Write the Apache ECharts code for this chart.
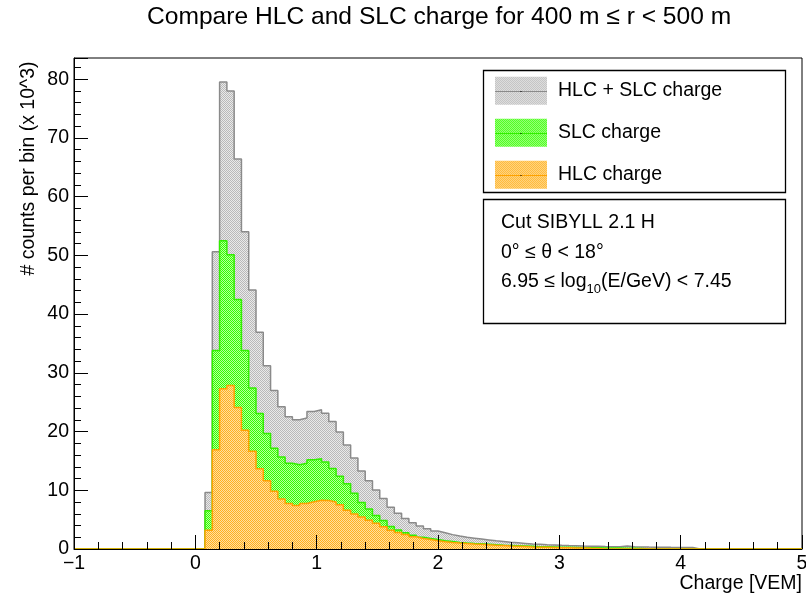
<!DOCTYPE html>
<html><head><meta charset="utf-8">
<script src="https://cdn.jsdelivr.net/npm/echarts@6/dist/echarts.min.js"></script>
<style>html,body{margin:0;padding:0;background:#fff}#c{width:806px;height:599px}</style>
</head><body><div id="c"></div>
<script>
// ---- data (histogram: 100 bins of width 0.06 from -1 to 5; values in units of 10^3 counts) ----
const xMin = -1, xMax = 5, binWidth = 0.06, nBins = 100;
const firstFilledEdge = 0.08; // low edge of first non-empty bin
const hlcSlcCharge = [
  9.6, 50.6, 79.5, 78.0, 66.4, 54.0, 44.1, 36.9, 31.2, 27.0,
  24.2, 22.5, 22.0, 22.3, 23.4, 23.7, 23.1, 21.7, 19.9, 17.7,
  15.5, 13.3, 11.6, 10.05, 8.6, 7.1, 6.1, 5.2, 4.45, 3.9,
  3.45, 3.05, 2.75, 2.45, 2.2, 2.0, 1.85, 1.7, 1.55, 1.4,
  1.28, 1.15, 1.05, 0.95, 0.85, 0.8, 0.72, 0.68, 0.62, 0.58,
  0.55, 0.5, 0.48, 0.45, 0.42, 0.4, 0.38, 0.5, 0.4, 0.35,
  0.32, 0.3, 0.3, 0.28, 0.27, 0.25, 0.25
];
const slcCharge = [
  6.5, 33.8, 52.5, 50.1, 42.5, 33.8, 27.4, 23.05, 19.65, 17.15,
  15.65, 14.6, 14.35, 14.6, 15.2, 15.35, 14.8, 13.7, 12.4, 11.1,
  9.5, 7.9, 6.8, 5.7, 4.85, 3.85, 3.25, 2.75, 2.35, 2.0,
  1.8, 1.6, 1.42, 1.27, 1.12, 1.03, 0.95, 0.88, 0.8, 0.72,
  0.65, 0.6, 0.55, 0.5, 0.45, 0.4, 0.38, 0.35, 0.3, 0.28,
  0.25, 0.22, 0.2, 0.2, 0.18, 0.15, 0.15, 0.12, 0.12, 0.1
];
const hlcCharge = [
  3.2, 16.9, 27.3, 27.85, 24.1, 20.2, 16.65, 13.65, 11.6, 9.85,
  8.5, 7.75, 7.4, 7.75, 8.06, 8.3, 8.25, 8.0, 7.55, 6.6,
  5.95, 5.45, 4.9, 4.4, 3.8, 3.2, 2.8, 2.45, 2.1, 1.8,
  1.6, 1.4, 1.25, 1.12, 1.02, 0.93, 0.86, 0.8, 0.72, 0.65,
  0.6, 0.52, 0.47, 0.42, 0.36, 0.31, 0.28, 0.25, 0.22, 0.2,
  0.18, 0.15, 0.12, 0.1
];
const seriesNames = ['HLC + SLC charge', 'SLC charge', 'HLC charge'];
const xTickLabels = ['\u22121', '0', '1', '2', '3', '4', '5'];
const titleText = 'Compare HLC and SLC charge for 400 m \u2264 r < 500 m';
const infoLines = ['Cut SIBYLL 2.1 H', '0\u00b0 \u2264 \u03b8 < 18\u00b0'];

// ---- build step points (low edge of each bin) ----
function toPoints(arr) {
  const pts = [];
  const offset = Math.round((firstFilledEdge - xMin) / binWidth);
  for (let i = 0; i < nBins; i++) {
    const x = +(xMin + i * binWidth).toFixed(4);
    const k = i - offset;
    pts.push([x, (k >= 0 && k < arr.length) ? arr[k] : 0]);
  }
  pts.push([xMax, 0]);
  return pts;
}
function pattern(c1, c2) {
  const cv = document.createElement('canvas');
  cv.width = 2; cv.height = 2;
  const g = cv.getContext('2d');
  g.fillStyle = c2; g.fillRect(0, 0, 2, 2);
  g.fillStyle = c1; g.fillRect(0, 0, 1, 1); g.fillRect(1, 1, 1, 1);
  return { image: cv, repeat: 'repeat' };
}
const FONT = 'Liberation Sans, Arial, Helvetica, sans-serif';
const fills = [pattern('#b9b9b9', '#e9e9e9'), pattern('#33ff00', '#b6ff9c'), pattern('#ffb01f', '#ffdf9e')];
const lines = ['#8a8a8a', '#33ee00', '#ffa200'];
const datasets = [hlcSlcCharge, slcCharge, hlcCharge];

const chart = echarts.init(document.getElementById('c'), null, { renderer: 'canvas' });
const legendTop = 71, legendLeft = 483, legendItemH = 28, legendGap = 14, swatchX = 495, swatchW = 52;
const graphic = [
  { type: 'rect', shape: { x: 483.5, y: 70.5, width: 302, height: 122 }, style: { fill: 'none', stroke: '#000', lineWidth: 1.3 }, z: 10 },
  { type: 'rect', shape: { x: 483.5, y: 199.5, width: 302, height: 124 }, style: { fill: 'none', stroke: '#000', lineWidth: 1.3 }, z: 10 },
  { type: 'text', left: 501, top: 213, style: { text: infoLines[0], font: '19.5px ' + FONT, fill: '#000' }, z: 10 },
  { type: 'text', left: 501, top: 243, style: { text: infoLines[1], font: '19.5px ' + FONT, fill: '#000' }, z: 10 },
  { type: 'text', left: 501, top: 272, style: {
      text: '6.95 \u2264 log{sub|10}(E/GeV) < 7.45', font: '19.5px ' + FONT, fill: '#000',
      rich: { sub: { fontSize: 13, fontFamily: FONT, padding: [14, 0, 0, 0] } } }, z: 10 }
];
for (let i = 0; i < 3; i++) {
  const cy = legendTop + 5.7 + i * (legendItemH + legendGap) + legendItemH / 2;
  graphic.push({ type: 'line', shape: { x1: swatchX, y1: Math.round(cy) + 0.5, x2: swatchX + swatchW, y2: Math.round(cy) + 0.5 }, style: { stroke: lines[i], lineWidth: 1 }, z: 20 });
  graphic.push({ type: 'rect', shape: { x: swatchX + swatchW / 2 - 0.5, y: Math.round(cy), width: 1, height: 1 }, style: { fill: '#000' }, z: 21 });
}

chart.setOption({
  animation: false,
  backgroundColor: '#fff',
  title: { text: titleText, left: 147, top: 5, padding: 0,
    textStyle: { fontFamily: FONT, fontSize: 24.6, fontWeight: 'normal', color: '#000' } },
  grid: { left: 74, right: 4, top: 58, bottom: 50, show: true, borderColor: '#000', borderWidth: 1,
    backgroundColor: 'transparent', containLabel: false, outerBoundsMode: 'none' },
  legend: {
    orient: 'vertical', left: legendLeft, top: legendTop, padding: [5.7, 0, 0, 12],
    itemWidth: swatchW, itemHeight: legendItemH, itemGap: legendGap, icon: 'rect',
    selectedMode: false,
    textStyle: { fontFamily: FONT, fontSize: 19.5, color: '#000', padding: [0, 0, 0, 6] },
    data: seriesNames.map((n, i) => ({ name: n, icon: 'rect', itemStyle: { color: fills[i], borderWidth: 0 } }))
  },
  xAxis: {
    type: 'value', min: xMin, max: xMax, interval: 1, z: 5,
    name: 'Charge [VEM]', nameLocation: 'end', nameGap: 0, nameMoveOverlap: false,
    nameTextStyle: { fontFamily: FONT, fontSize: 19.5, color: '#000', align: 'right', verticalAlign: 'top', padding: [25, 0, 0, 0] },
    axisLine: { show: true, onZero: false, lineStyle: { color: '#000', width: 1 } },
    axisTick: { show: true, inside: true, length: 14, lineStyle: { color: '#000' } },
    minorTick: { show: true, splitNumber: 5, length: 7, lineStyle: { color: '#000' } },
    axisLabel: { fontFamily: FONT, fontSize: 19.5, color: '#000', margin: 5,
      formatter: v => xTickLabels[Math.round(v - xMin)] },
    splitLine: { show: false }
  },
  yAxis: {
    type: 'value', min: 0, max: 83.6, interval: 10,
    name: '# counts per bin (x 10^3)', nameLocation: 'middle', nameGap: 35, nameRotate: 90, nameMoveOverlap: false,
    nameTextStyle: { fontFamily: FONT, fontSize: 19.5, color: '#000', padding: [0, 0, 0, 270] },
    axisLine: { show: true, onZero: false, lineStyle: { color: '#000', width: 1 } },
    axisTick: { show: true, inside: true, length: 14, lineStyle: { color: '#000' } },
    minorTick: { show: true, splitNumber: 5, length: 7, lineStyle: { color: '#000' } },
    axisLabel: { fontFamily: FONT, fontSize: 19.5, color: '#000', margin: 5, showMaxLabel: false },
    splitLine: { show: false }
  },
  graphic: graphic,
  series: datasets.map((arr, i) => ({
    name: seriesNames[i], type: 'line', step: 'end', symbol: 'none', showSymbol: false,
    data: toPoints(arr),
    lineStyle: { color: lines[i], width: 1.5 },
    itemStyle: { color: lines[i] },
    areaStyle: { color: fills[i], opacity: 1 },
    z: 2 + i
  }))
});
</script></body></html>
